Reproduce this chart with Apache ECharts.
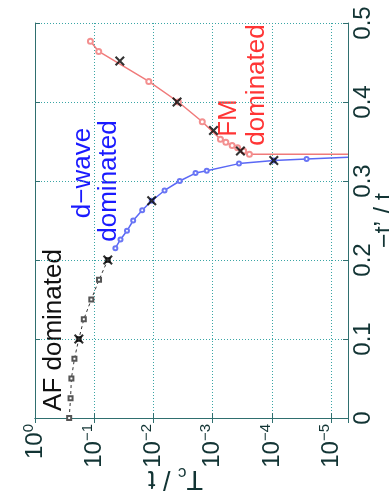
<!DOCTYPE html>
<html>
<head>
<meta charset="utf-8">
<script src="https://cdn.jsdelivr.net/npm/echarts@6/dist/echarts.min.js"></script>
<style>
html,body{margin:0;padding:0;background:#fff}
#chart{width:389px;height:499px}
</style>
</head>
<body>
<div id="chart"></div>
<script>
// Tc/t (log axis, bottom) against -t'/t (right axis); picture is turned on its side
var tcMin = 5.2e-6;
var tcMax = 1;

// AF dominated branch (black squares, dashed)
var afTp = [0, 0.025, 0.05, 0.075, 0.1, 0.125, 0.15, 0.175, 0.2];
var afTc = [0.265, 0.251, 0.243, 0.216, 0.182, 0.150, 0.112, 0.083, 0.059];

// d-wave branch (blue circles)
var dTp = [0.215, 0.226, 0.237, 0.25, 0.263, 0.275, 0.288, 0.30, 0.31, 0.313, 0.322, 0.326, 0.328, 0.330];
var dTc = [0.044, 0.036, 0.028, 0.022, 0.0155, 0.0107, 0.0065, 0.0036, 0.00195, 0.00126, 3.6e-4, 9.3e-5, 2.6e-5, 5.2e-6];

// FM branch (red circles)
var fmTp = [0.477, 0.464, 0.426, 0.40, 0.375, 0.353, 0.349, 0.345, 0.342, 0.338, 0.334, 0.334];
var fmTc = [0.116, 0.084, 0.012, 0.0038, 0.0015, 7.4e-4, 6.0e-4, 4.7e-4, 3.8e-4, 3.0e-4, 2.4e-4, 5.2e-6];

// crosses
var xTp = [0.1, 0.2, 0.275, 0.326, 0.338, 0.364, 0.40, 0.452];
var xTc = [0.182, 0.059, 0.0107, 9.3e-5, 3.4e-4, 9.7e-4, 0.004, 0.037];

// y tick labels
var tpTicks = ['0', '0.1', '0.2', '0.3', '0.4', '0.5'];

function pairs(tc, tp, lastBare) {
  return tc.map(function (v, i) {
    var item = { value: [v, tp[i]] };
    if (lastBare && i === tc.length - 1) item.symbol = 'none';
    return item;
  });
}

var frame = '#2f6f6f';
var gridCol = '#3aa5a5';
var labCol = '#123434';
var cross = 'path://M0,1.5L1.5,0L5,3.5L8.5,0L10,1.5L6.5,5L10,8.5L8.5,10L5,6.5L1.5,10L0,8.5L3.5,5Z';

var chart = echarts.init(document.getElementById('chart'));
chart.setOption({
  animation: false,
  backgroundColor: '#fff',
  grid: { left: 35, top: 23, right: 41, bottom: 81, outerBoundsMode: 'none' },
  xAxis: [{
    type: 'log', logBase: 10, min: tcMin, max: tcMax, inverse: true,
    position: 'bottom',
    axisLine: { show: true, lineStyle: { color: frame, width: 1 } },
    axisTick: { show: true, inside: true, length: 5, lineStyle: { color: frame } },
    splitLine: { show: true, lineStyle: { color: gridCol, type: [1, 2], width: 1 } },
    axisLabel: {
      rotate: 90, margin: 6, color: labCol,
      formatter: function (v) {
        var k = Math.log10(v);
        if (Math.abs(k - Math.round(k)) > 1e-6) return '';
        k = Math.round(k);
        return '{b|10}{e|' + (k === 0 ? '0' : '\u2212' + (-k)) + '}';
      },
      rich: {
        b: { fontSize: 24, fontFamily: 'Liberation Sans', color: labCol },
        e: { fontSize: 15, fontFamily: 'Liberation Sans', color: labCol, padding: [0, 0, 13, 0] }
      }
    },
    name: '{t|T}{s|c}{t| / t}',
    nameLocation: 'middle', nameRotate: 180, nameGap: 46, nameMoveOverlap: false,
    nameTextStyle: {
      padding: [0, 0, 0, 32],
      rich: {
        t: { fontSize: 27, fontFamily: 'Liberation Sans', color: labCol },
        s: { fontSize: 17, fontFamily: 'Liberation Sans', color: labCol, padding: [12, 0, 0, 0] }
      }
    }
  }, {
    type: 'log', logBase: 10, min: tcMin, max: tcMax, inverse: true,
    position: 'top',
    axisLine: { show: true, lineStyle: { color: frame, width: 1 } },
    axisTick: { show: true, inside: true, length: 5, lineStyle: { color: frame } },
    axisLabel: { show: false },
    splitLine: { show: false }
  }],
  yAxis: [{
    type: 'value', min: 0, max: 0.5, interval: 0.1,
    position: 'right',
    axisLine: { show: true, lineStyle: { color: frame, width: 1 } },
    axisTick: { show: true, inside: true, length: 5, lineStyle: { color: frame } },
    splitLine: { show: true, lineStyle: { color: gridCol, type: [1, 2], width: 1 } },
    axisLabel: {
      rotate: 90, margin: 3, fontSize: 24, fontFamily: 'Liberation Sans', color: labCol,
      formatter: function (v) { return tpTicks[Math.round(v * 10)]; }
    },
    name: '\u2212t\u2019 / t',
    nameLocation: 'middle', nameRotate: 90, nameGap: 25, nameMoveOverlap: false,
    nameTextStyle: { fontSize: 25, fontFamily: 'Liberation Sans', color: labCol }
  }, {
    type: 'value', min: 0, max: 0.5, interval: 0.1,
    position: 'left',
    axisLine: { show: true, lineStyle: { color: frame, width: 1 } },
    axisTick: { show: true, inside: true, length: 5, lineStyle: { color: frame } },
    axisLabel: { show: false },
    splitLine: { show: false }
  }],
  series: [{
    name: 'AF', type: 'line', data: pairs(afTc, afTp, false),
    symbol: 'emptyRect', symbolSize: 4,
    lineStyle: { color: '#333', width: 1, type: [3, 3] },
    itemStyle: { color: '#555', borderWidth: 1 }
  }, {
    name: 'd-wave', type: 'line', data: pairs(dTc, dTp, true),
    symbol: 'emptyCircle', symbolSize: 4,
    lineStyle: { color: '#5a68f5', width: 1.5 },
    itemStyle: { color: '#6a76f5', borderWidth: 1 }
  }, {
    name: 'FM', type: 'line', data: pairs(fmTc, fmTp, true),
    symbol: 'emptyCircle', symbolSize: 5,
    lineStyle: { color: '#f07a7a', width: 1.5 },
    itemStyle: { color: '#f39090', borderWidth: 1 }
  }, {
    name: 'cross', type: 'scatter', data: pairs(xTc, xTp, false),
    symbol: cross, symbolSize: 10, z: 5,
    itemStyle: { color: '#000' }
  }],
  graphic: [
    { type: 'text', x: 54, y: 330, rotation: Math.PI / 2,
      style: { text: 'AF dominated', font: '26px "Liberation Sans"', fill: '#111', align: 'center', verticalAlign: 'middle' } },
    { type: 'text', x: 83, y: 173, rotation: Math.PI / 2,
      style: { text: 'd\u2212wave', font: '26px "Liberation Sans"', fill: '#1a1aff', align: 'center', verticalAlign: 'middle' } },
    { type: 'text', x: 109, y: 181, rotation: Math.PI / 2,
      style: { text: 'dominated', font: '26px "Liberation Sans"', fill: '#1a1aff', align: 'center', verticalAlign: 'middle' } },
    { type: 'text', x: 229, y: 118, rotation: Math.PI / 2,
      style: { text: 'FM', font: '26px "Liberation Sans"', fill: '#ff3535', align: 'center', verticalAlign: 'middle' } },
    { type: 'text', x: 257, y: 85, rotation: Math.PI / 2,
      style: { text: 'dominated', font: '26px "Liberation Sans"', fill: '#ff3535', align: 'center', verticalAlign: 'middle' } }
  ]
});
</script>
</body>
</html>
